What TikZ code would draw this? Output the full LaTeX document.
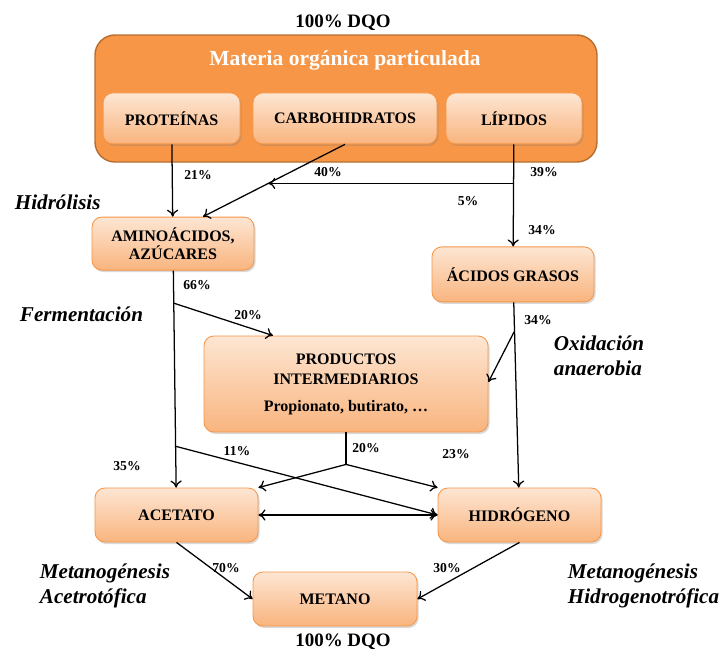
\documentclass[tikz,border=0pt]{standalone}
\usepackage{fontspec}
\setmainfont{Liberation Serif}
\usetikzlibrary{calc,shadows,arrows.meta}
\definecolor{naranja}{HTML}{F79646}
\definecolor{naranjaosc}{HTML}{B66D31}
\definecolor{durazno}{HTML}{FDE6D3}
\definecolor{duraznoosc}{HTML}{F9B47E}
\begin{document}
\begin{tikzpicture}[
    caja/.style={draw=naranja, line width=0.6pt, rounded corners=7pt, top color=durazno, bottom color=duraznoosc, drop shadow={opacity=0.3, shadow xshift=0.04cm, shadow yshift=-0.05cm}, font=\fontsize{11.4}{13}\selectfont\bfseries, align=center, inner sep=2pt},
    pct/.style={font=\fontsize{9.7}{11}\selectfont\bfseries},
    etapa/.style={font=\fontsize{15}{18}\selectfont\bfseries\itshape, align=left, anchor=west},
    dqo/.style={font=\fontsize{13.5}{15}\selectfont\bfseries},
    flecha/.style={-{To[length=5pt,width=8pt]}, line width=0.9pt}
]
\useasboundingbox (0,0) rectangle (17.975,-16.275);

\node[draw=naranjaosc, fill=naranja, line width=1pt, rounded corners=0.5cm, minimum width=12.55cm, minimum height=3.175cm] (materia) at (8.65,-2.4625) {};
\node[text=white, font=\fontsize{15.3}{17}\selectfont\bfseries] (titulo) at (8.625,-1.5) {Materia orgánica particulada};
\node[caja, minimum width=3.425cm, minimum height=1.275cm] (prot) at (4.29,-2.96) {PROTEÍNAS};
\node[caja, minimum width=4.6cm, minimum height=1.275cm] (carb) at (8.625,-2.96) {CARBOHIDRATOS};
\node[caja, minimum width=3.4cm, minimum height=1.275cm] (lip) at (12.85,-2.96) {LÍPIDOS};
\node[caja, minimum width=4.05cm, minimum height=1.325cm] (amino) at (4.325,-6.09) {AMINOÁCIDOS,\\AZÚCARES};
\node[caja, minimum width=4.05cm, minimum height=1.375cm] (acid) at (12.825,-6.86) {ÁCIDOS GRASOS};
\node[caja, minimum width=7.1cm, minimum height=2.4cm, font=\fontsize{11.4}{14.2}\selectfont\bfseries] (prod) at (8.65,-9.6) {PRODUCTOS\\INTERMEDIARIOS\\[5pt]Propionato, butirato, …};
\node[caja, minimum width=4.075cm, minimum height=1.35cm] (acet) at (4.4125,-12.875) {ACETATO};
\node[caja, minimum width=4.075cm, minimum height=1.35cm] (hidr) at (12.9875,-12.875) {HIDRÓGENO};
\node[caja, minimum width=4.1cm, minimum height=1.35cm] (met) at (8.375,-14.975) {METANO};

\node[dqo] (dqoa) at (8.575,-0.575) {100\% DQO};
\node[dqo] (dqob) at (8.575,-16.05) {100\% DQO};

\node[etapa] (hidrol) at (0.25,-5.05) {Hidrólisis};
\node[etapa] (ferm) at (0.375,-7.85) {Fermentación};
\node[etapa] (oxid) at (13.725,-8.8875) {Oxidación\\anaerobia};
\node[etapa] (metace) at (0.875,-14.65) {Metanogénesis\\Acetrotófica};
\node[etapa] (methid) at (14.075,-14.65) {Metanogénesis\\Hidrogenotrófica};

\coordinate (aminoin) at ([xshift=0.75cm]amino.north);
\coordinate (j5) at ($(carb.south)!0.54!(aminoin)$);
\coordinate (f20) at ($(amino.south)!0.15!(acet.north)$);
\coordinate (f11) at ($(amino.south)!0.81!(acet.north)$);
\coordinate (o34) at ($(acid.south)!0.16!(hidr.north)$);
\coordinate (p20) at ([yshift=-0.8cm]prod.south);

\draw[flecha] (prot) -- (amino);
\draw[flecha] (carb.south) -- (aminoin);
\draw[flecha] (lip.south |- j5) -- (j5);
\draw[flecha] (lip) -- (acid);
\draw[flecha] (amino) -- (acet);
\draw[flecha] (f20) -- ([xshift=-1.825cm]prod.north);
\draw[flecha] (f11) -- (hidr.west);
\draw[flecha] (acid) -- (hidr);
\draw[flecha] (o34) -- ([yshift=0.05cm]prod.east);
\draw[line width=0.9pt] (prod.south) -- (p20);
\draw[flecha] (p20) -- (acet.north east);
\draw[flecha] (p20) -- (hidr.north west);
\draw[flecha, {To[length=5pt,width=8pt]}-{To[length=5pt,width=8pt]}] (acet) -- (hidr);
\draw[flecha] (acet.south) -- (met.west);
\draw[flecha] (hidr.south) -- (met.east);

\node[pct] (p21) at (4.95,-4.375) {21\%};
\node[pct] (p40) at (8.2,-4.3) {40\%};
\node[pct] (p39) at (13.6,-4.3) {39\%};
\node[pct] (p5) at (11.7,-5.025) {5\%};
\node[pct] (p34a) at (13.55,-5.75) {34\%};
\node[pct] (p66) at (4.925,-7.125) {66\%};
\node[pct] (p20a) at (6.2,-7.875) {20\%};
\node[pct] (p34b) at (13.45,-8.0) {34\%};
\node[pct] (p11) at (5.925,-11.275) {11\%};
\node[pct] (p20b) at (9.15,-11.2) {20\%};
\node[pct] (p23) at (11.4,-11.35) {23\%};
\node[pct] (p35) at (3.175,-11.65) {35\%};
\node[pct] (p70) at (5.65,-14.2) {70\%};
\node[pct] (p30) at (11.175,-14.2) {30\%};
\end{tikzpicture}
\end{document}
